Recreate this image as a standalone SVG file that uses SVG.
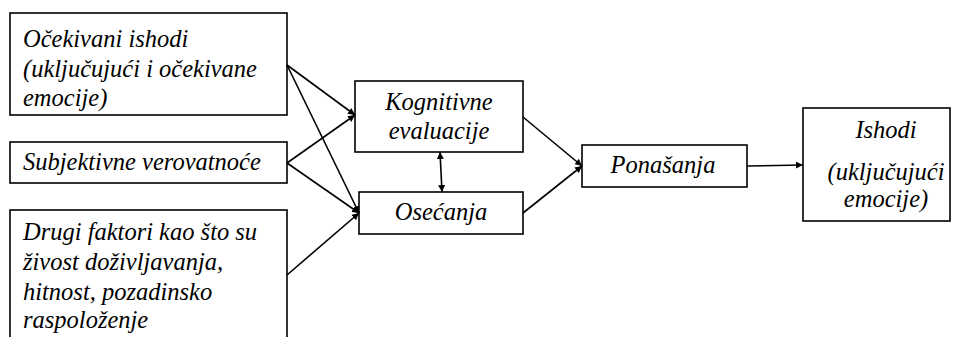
<svg xmlns="http://www.w3.org/2000/svg" width="956" height="337" viewBox="0 0 956 337">
<defs>
<marker id="ah" viewBox="0 0 10 10" refX="10" refY="5" markerWidth="7" markerHeight="7" markerUnits="userSpaceOnUse" orient="auto-start-reverse">
<path d="M0,0 L10,5 L0,10 Z" fill="#000"/>
</marker>
</defs>
<style>
.box{fill:#fff;stroke:#000;stroke-width:1.6}
.t{font-family:"Liberation Serif","Times New Roman",serif;font-style:italic;font-size:24.5px;fill:#000}
.m{text-anchor:middle}
.c{stroke:#000;stroke-width:1.6;fill:none;marker-end:url(#ah)}
</style>
<rect width="956" height="337" fill="#fff"/>
<g id="n1"><rect class="box" x="10" y="13" width="277" height="102"/>
<text class="t" x="23" y="47">Očekivani ishodi</text>
<text class="t" x="23" y="77">(uključujući i očekivane</text>
<text class="t" x="23" y="106">emocije)</text></g>
<g id="n2"><rect class="box" x="10" y="142" width="277" height="41"/>
<text class="t" x="23" y="170">Subjektivne verovatnoće</text></g>
<g id="n3"><rect class="box" x="10" y="210" width="277" height="140"/>
<text class="t" x="23" y="240">Drugi faktori kao što su</text>
<text class="t" x="23" y="270">živost doživljavanja,</text>
<text class="t" x="23" y="300">hitnost, pozadinsko</text>
<text class="t" x="23" y="328">raspoloženje</text></g>
<g id="n4"><rect class="box" x="355" y="81" width="168" height="71"/>
<text class="t m" x="439" y="110">Kognitivne</text>
<text class="t m" x="439" y="139">evaluacije</text></g>
<g id="n5"><rect class="box" x="359" y="192" width="164" height="42"/>
<text class="t m" x="441" y="220">Osećanja</text></g>
<g id="n6"><rect class="box" x="582" y="145" width="165" height="42"/>
<text class="t m" x="663" y="173">Ponašanja</text></g>
<g id="n7"><rect class="box" x="803" y="108" width="147" height="113"/>
<text class="t m" x="886" y="138">Ishodi</text>
<text class="t m" x="886" y="180">(uključujući</text>
<text class="t m" x="886" y="207">emocije)</text></g>
<g id="connectors">
<line class="c" x1="287" y1="65" x2="355" y2="115"/>
<line class="c" x1="287" y1="65" x2="359" y2="213"/>
<line class="c" x1="287" y1="163" x2="355" y2="115"/>
<line class="c" x1="287" y1="163" x2="359" y2="213"/>
<line class="c" x1="287" y1="275" x2="359" y2="213"/>
<line class="c" x1="440" y1="152" x2="442" y2="192" marker-start="url(#ah)"/>
<line class="c" x1="523" y1="117" x2="582" y2="166"/>
<line class="c" x1="523" y1="213" x2="582" y2="166"/>
<line class="c" x1="747" y1="166" x2="803" y2="165"/>
</g>
</svg>
